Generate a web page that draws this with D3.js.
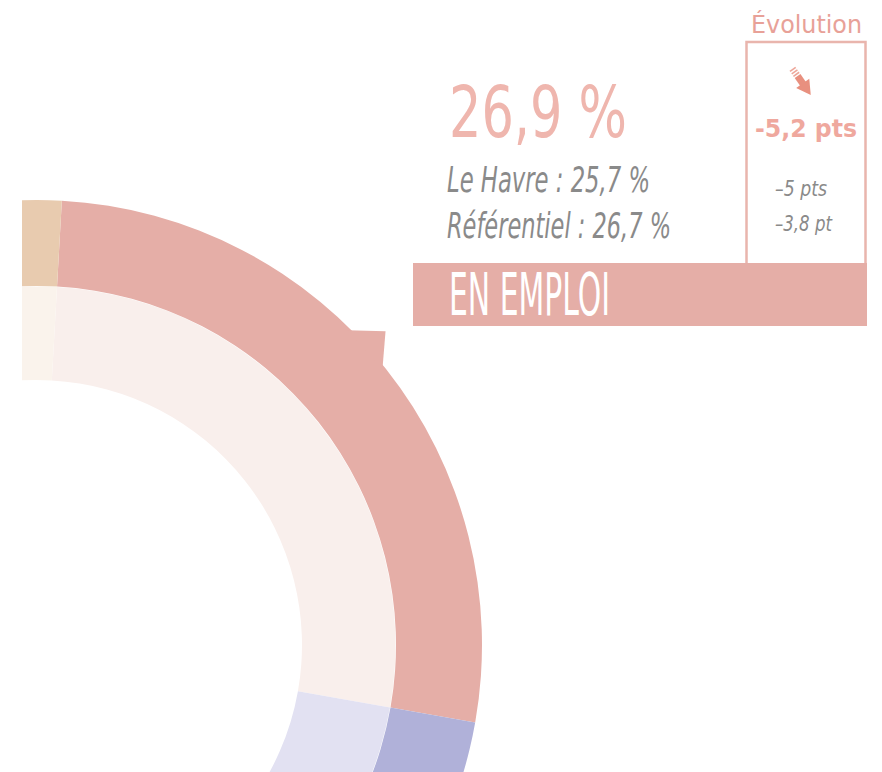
<!DOCTYPE html>
<html>
<head>
<meta charset="utf-8">
<script src="https://cdn.jsdelivr.net/npm/d3@7"></script>
<style>
  body { margin: 0; background: #fff; }
  svg { display: block; }
  .cond { font-family: 'Liberation Sans Narrow', 'DejaVu Sans Condensed', 'Open Sans', sans-serif; }
</style>
</head>
<body>
<div id="main"></div>
<script>
/*********************************************************
 * Data
 *********************************************************/
const categories = ['En emploi', 'En formation', 'Au chômage', 'Inactif', 'Autre'];
const shares = [26.9, 30.4, 24.1, 9.5, 9.1];          // outer ring, %
const sharesInner = [26.9, 30.4, 24.1, 9.5, 9.1];     // inner ring, %
const outerColors = ['#e5aea7', '#b0b1d9', '#c9d3e0', '#d8d8d8', '#e8cbaf'];
const innerColors = ['#f9efec', '#e2e1f2', '#eef1f6', '#f1f1f1', '#faf3ec'];

const mainValue = '26,9 %';
const compareLines = ['Le Havre : 25,7 %', 'Référentiel : 26,7 %'];
const evolutionTitle = 'Évolution';
const evolutionMain = '-5,2 pts';
const evolutionCompare = ['–5 pts', '–3,8 pt'];
const bannerLabel = 'EN EMPLOI';

/*********************************************************
 * Layout
 *********************************************************/
const svgWidth = 882;
const svgHeight = 772;
const center = { x: 37, y: 645 };
const rOuter = [359, 445];
const rInner = [265, 359];
const startDeg = 3.2;
const pointerDeg = 48;

const svg = d3.select('#main')
  .append('svg')
  .attr('width', svgWidth)
  .attr('height', svgHeight);

svg.append('clipPath')
  .attr('id', 'crop')
  .append('rect')
  .attr('x', 22)
  .attr('y', 0)
  .attr('width', svgWidth - 22)
  .attr('height', svgHeight);

/*********************************************************
 * Donut
 *********************************************************/
const toRad = d => d * Math.PI / 180;

const pie = d3.pie()
  .sort(null)
  .value(d => d)
  .startAngle(toRad(startDeg))
  .endAngle(toRad(startDeg + 360));

const donut = svg.append('g')
  .attr('clip-path', 'url(#crop)')
  .append('g')
  .attr('transform', `translate(${center.x}, ${center.y})`);

const arcInner = d3.arc().innerRadius(rInner[0]).outerRadius(rInner[1] - 0.5);
const arcOuter = d3.arc().innerRadius(rOuter[0]).outerRadius(rOuter[1]);

donut.selectAll('.inner')
  .data(pie(sharesInner))
  .enter().append('path')
  .attr('class', 'inner')
  .attr('d', arcInner)
  .attr('fill', (d, i) => innerColors[i]);

donut.selectAll('.outer')
  .data(pie(shares))
  .enter().append('path')
  .attr('class', 'outer')
  .attr('d', arcOuter)
  .attr('fill', (d, i) => outerColors[i]);

// small pointer on the outer ring, towards the label
const polar = (deg, r) => [r * Math.sin(toRad(deg)), -r * Math.cos(toRad(deg))];
donut.append('path')
  .attr('d', d3.line()([
    polar(pointerDeg - 3.4, rOuter[1] - 3),
    polar(pointerDeg, rOuter[1] + 24),
    polar(pointerDeg + 3.4, rOuter[1] - 3)
  ]) + 'Z')
  .attr('fill', outerColors[0]);

/*********************************************************
 * Labels
 *********************************************************/
const salmon = '#e5aea7';

// evolution box
svg.append('rect')
  .attr('x', 746.5)
  .attr('y', 42)
  .attr('width', 119)
  .attr('height', 230)
  .attr('fill', 'none')
  .attr('stroke', '#e9b5ad')
  .attr('stroke-width', 2.5);

// banner
svg.append('rect')
  .attr('x', 413)
  .attr('y', 263)
  .attr('width', 454)
  .attr('height', 63)
  .attr('fill', salmon);

function addText(txt, x, y, size, len, opts) {
  const t = svg.append('text')
    .attr('class', 'cond')
    .attr('x', x)
    .attr('y', y)
    .attr('font-size', size)
    .attr('fill', opts.fill)
    .attr('textLength', len)
    .attr('lengthAdjust', 'spacingAndGlyphs')
    .text(txt);
  if (opts.italic) t.attr('font-style', 'italic');
  if (opts.bold) t.attr('font-weight', 'bold');
  if (opts.font) t.attr('font-family', opts.font);
  return t;
}

addText(mainValue, 449, 137, 72, 178, { fill: '#efb6ae' });
addText(compareLines[0], 447, 192, 35, 203, { fill: '#8a8a8a', italic: true });
addText(compareLines[1], 447, 238, 35, 224, { fill: '#8a8a8a', italic: true });

addText(evolutionTitle, 751, 33, 25, 111, { fill: '#e8a198' });
addText(evolutionMain, 755, 137, 25, 102, { fill: '#efa89e', bold: true, font: "'Open Sans', sans-serif" });
addText(evolutionCompare[0], 775, 196, 21, 52, { fill: '#8a8a8a', italic: true });
addText(evolutionCompare[1], 775, 231, 21, 57, { fill: '#8a8a8a', italic: true });

addText(bannerLabel, 449, 315, 58, 161, { fill: '#ffffff' });

// arrow icon (down-right)
const arrow = svg.append('g')
  .attr('transform', 'translate(801, 81) rotate(55)')
  .attr('fill', '#e8907f');
arrow.append('path').attr('d', d3.line()([[3, -8], [17, 0], [3, 8]]) + 'Z');
arrow.append('rect').attr('x', -6).attr('y', -3.5).attr('width', 10).attr('height', 7);
[-9, -12, -15].forEach(x => {
  arrow.append('rect').attr('x', x).attr('y', -3.5).attr('width', 1.6).attr('height', 7)
    .attr('opacity', 0.8);
});
</script>
</body>
</html>
